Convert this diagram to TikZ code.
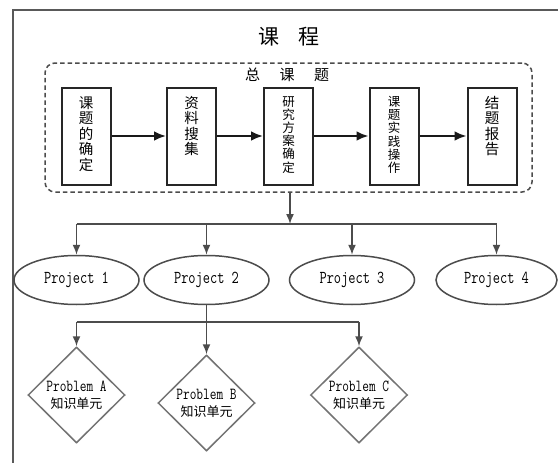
\documentclass[tikz,border=0pt]{standalone}
\usepackage{fontspec}
\newfontfamily\cjk{Noto Sans CJK SC}
\usetikzlibrary{shapes.geometric,arrows.meta}
\newcommand{\tallmono}[1]{\scalebox{1}[1.3]{\ttfamily #1}}
\begin{document}
\begin{tikzpicture}[x=1pt,y=-1pt,
  frame/.style={draw=black!65,line width=1.5pt},
  topicbox/.style={draw=black!70,line width=1.5pt,dash pattern=on 4.5pt off 3pt,rounded corners=10pt,minimum width=487pt,minimum height=129pt,inner sep=0pt},
  stagebox/.style={draw=black!85,line width=2pt,minimum width=49pt,minimum height=97pt,inner sep=0pt},
  stagetext/.style={anchor=north,align=center,inner sep=0pt,font=\cjk\fontsize{14.5}{15.5}\selectfont},
  stagetextsmall/.style={anchor=north,align=center,inner sep=0pt,font=\cjk\fontsize{12.5}{13.2}\selectfont},
  flow/.style={line width=2.6pt,draw=black!90,-{Latex[length=12pt,width=10pt]}},
  link/.style={line width=1.5pt,draw=black!70},
  linkarr/.style={link,-{Latex[length=10pt,width=8pt]}},
  proj/.style={ellipse,draw=black!70,line width=1.5pt,minimum width=125pt,minimum height=49pt,inner sep=0pt,font=\fontsize{14}{14}\selectfont},
  prob/.style={diamond,draw=black!55,line width=1.5pt,minimum width=97pt,minimum height=96pt,inner sep=0pt,align=center,font=\fontsize{13}{19}\selectfont},
]
\useasboundingbox (0,0) rectangle (558,463);
\fill[white] (0,0) rectangle (558,463);

% outer frame
\draw[frame] (558,10) -- (13,10) -- (13,463);

% titles
\node[inner sep=0pt,font=\cjk\fontsize{21}{21}\selectfont] (title) at (289,37) {课\hspace{0.9em}程};

\node[topicbox] (topic) at (288.5,127.5) {};
\node[inner sep=0pt,font=\cjk\fontsize{15}{15}\selectfont] (topictitle) at (287,75) {总\hspace{1.3em}课\hspace{1.3em}题};

% stage boxes
\node[stagebox] (s1) at (86,136) {};
\node[stagebox] (s2) at (191.5,136) {};
\node[stagebox] (s3) at (288.5,136) {};
\node[stagebox] (s4) at (394,136) {};
\node[stagebox] (s5) at (492,136) {};

\node[stagetext] (t1) at (86,96) {课\\题\\的\\确\\定};
\node[stagetext] (t2) at (191.5,96) {资\\料\\搜\\集};
\node[stagetextsmall] (t3) at (288.5,96) {研\\究\\方\\案\\确\\定};
\node[stagetextsmall] (t4) at (394,96) {课\\题\\实\\践\\操\\作};
\node[stagetext] (t5) at (492,96) {结\\题\\报\\告};

\draw[flow] (s1.east) -- (s2.west);
\draw[flow] (s2.east) -- (s3.west);
\draw[flow] (s3.east) -- (s4.west);
\draw[flow] (s4.east) -- (s5.west);

% projects
\node[proj] (p1) at (76.5,280) {\tallmono{Project 1}};
\node[proj] (p2) at (206.5,280) {\tallmono{Project 2}};
\node[proj] (p3) at (352,280) {\tallmono{Project 3}};
\node[proj,minimum width=121pt] (p4) at (496.5,280) {\tallmono{Project 4}};

\coordinate (j1) at (290,224);
\draw[linkarr] (topic.south -| j1) -- (j1);
\draw[link] (j1 -| p1) -- (j1 -| p4);
\draw[linkarr] (j1 -| p1) -- (p1.north);
\draw[linkarr] (j1 -| p2) -- (p2.north);
\draw[linkarr] (j1 -| p3) -- (p3.north);
\draw[linkarr] (j1 -| p4) -- (p4.north);

% problems
\node[prob] (qa) at (76.5,395) {\tallmono{Problem A}\\[-2pt]{\cjk 知识单元}};
\node[prob] (qb) at (206.5,403) {\tallmono{Problem B}\\[-2pt]{\cjk 知识单元}};
\node[prob] (qc) at (359,395) {\tallmono{Problem C}\\[-2pt]{\cjk 知识单元}};

\coordinate (j2) at (206.5,322);
\draw[link] (p2.south) -- (j2);
\draw[link] (j2 -| qa) -- (j2 -| qc);
\draw[linkarr] (j2 -| qa) -- (qa.north);
\draw[linkarr] (j2 -| qb) -- (qb.north);
\draw[linkarr] (j2 -| qc) -- (qc.north);
\end{tikzpicture}
\end{document}
